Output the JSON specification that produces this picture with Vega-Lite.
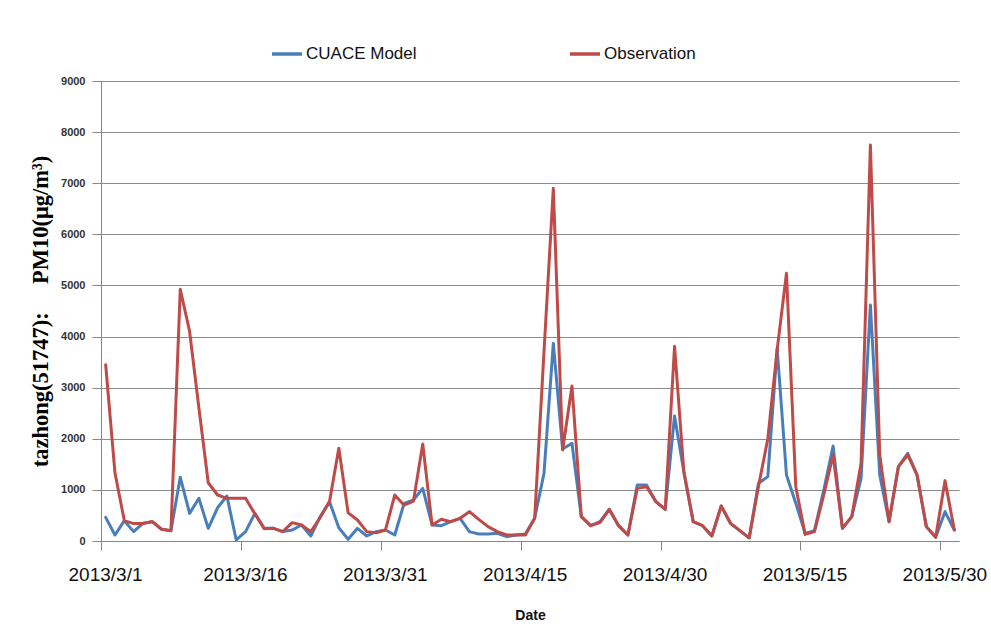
{
  "$schema": "https://vega.github.io/schema/vega-lite/v6.json",
  "width": 858,
  "height": 460,
  "autosize": {"type": "none"},
  "padding": {"left": 101, "top": 81, "right": 32, "bottom": 86},
  "background": "white",
  "config": {
    "view": {"stroke": null},
    "axis": {"domainColor": "#868686", "tickColor": "#868686", "gridColor": "#8c8c8c"}
  },
  "data": {
    "values": [
      {"date": "2013-03-01", "CUACE Model": 463, "Observation": 3450},
      {"date": "2013-03-02", "CUACE Model": 117, "Observation": 1330},
      {"date": "2013-03-03", "CUACE Model": 398, "Observation": 400},
      {"date": "2013-03-04", "CUACE Model": 183, "Observation": 340},
      {"date": "2013-03-05", "CUACE Model": 346, "Observation": 340},
      {"date": "2013-03-06", "CUACE Model": 378, "Observation": 380},
      {"date": "2013-03-07", "CUACE Model": 229, "Observation": 230},
      {"date": "2013-03-08", "CUACE Model": 203, "Observation": 200},
      {"date": "2013-03-09", "CUACE Model": 1246, "Observation": 4925},
      {"date": "2013-03-10", "CUACE Model": 541, "Observation": 4100},
      {"date": "2013-03-11", "CUACE Model": 835, "Observation": 2600},
      {"date": "2013-03-12", "CUACE Model": 248, "Observation": 1140},
      {"date": "2013-03-13", "CUACE Model": 650, "Observation": 900},
      {"date": "2013-03-14", "CUACE Model": 880, "Observation": 835},
      {"date": "2013-03-15", "CUACE Model": 20, "Observation": 835},
      {"date": "2013-03-16", "CUACE Model": 183, "Observation": 835},
      {"date": "2013-03-17", "CUACE Model": 541, "Observation": 530},
      {"date": "2013-03-18", "CUACE Model": 248, "Observation": 240},
      {"date": "2013-03-19", "CUACE Model": 248, "Observation": 248},
      {"date": "2013-03-20", "CUACE Model": 183, "Observation": 183},
      {"date": "2013-03-21", "CUACE Model": 215, "Observation": 359},
      {"date": "2013-03-22", "CUACE Model": 313, "Observation": 313},
      {"date": "2013-03-23", "CUACE Model": 98, "Observation": 183},
      {"date": "2013-03-24", "CUACE Model": 476, "Observation": 460},
      {"date": "2013-03-25", "CUACE Model": 770, "Observation": 770},
      {"date": "2013-03-26", "CUACE Model": 260, "Observation": 1813},
      {"date": "2013-03-27", "CUACE Model": 33, "Observation": 550},
      {"date": "2013-03-28", "CUACE Model": 248, "Observation": 411},
      {"date": "2013-03-29", "CUACE Model": 98, "Observation": 183},
      {"date": "2013-03-30", "CUACE Model": 183, "Observation": 160},
      {"date": "2013-03-31", "CUACE Model": 215, "Observation": 215},
      {"date": "2013-04-01", "CUACE Model": 117, "Observation": 900},
      {"date": "2013-04-02", "CUACE Model": 737, "Observation": 700},
      {"date": "2013-04-03", "CUACE Model": 802, "Observation": 780},
      {"date": "2013-04-04", "CUACE Model": 1030, "Observation": 1898},
      {"date": "2013-04-05", "CUACE Model": 313, "Observation": 313},
      {"date": "2013-04-06", "CUACE Model": 300, "Observation": 424},
      {"date": "2013-04-07", "CUACE Model": 378, "Observation": 378},
      {"date": "2013-04-08", "CUACE Model": 444, "Observation": 444},
      {"date": "2013-04-09", "CUACE Model": 183, "Observation": 574},
      {"date": "2013-04-10", "CUACE Model": 137, "Observation": 424},
      {"date": "2013-04-11", "CUACE Model": 137, "Observation": 281},
      {"date": "2013-04-12", "CUACE Model": 150, "Observation": 183},
      {"date": "2013-04-13", "CUACE Model": 85, "Observation": 117},
      {"date": "2013-04-14", "CUACE Model": 117, "Observation": 117},
      {"date": "2013-04-15", "CUACE Model": 137, "Observation": 117},
      {"date": "2013-04-16", "CUACE Model": 444, "Observation": 444},
      {"date": "2013-04-17", "CUACE Model": 1324, "Observation": 3700},
      {"date": "2013-04-18", "CUACE Model": 3868, "Observation": 6900},
      {"date": "2013-04-19", "CUACE Model": 1800, "Observation": 1781},
      {"date": "2013-04-20", "CUACE Model": 1911, "Observation": 3033},
      {"date": "2013-04-21", "CUACE Model": 476, "Observation": 476},
      {"date": "2013-04-22", "CUACE Model": 300, "Observation": 300},
      {"date": "2013-04-23", "CUACE Model": 378, "Observation": 359},
      {"date": "2013-04-24", "CUACE Model": 620, "Observation": 620},
      {"date": "2013-04-25", "CUACE Model": 300, "Observation": 300},
      {"date": "2013-04-26", "CUACE Model": 117, "Observation": 117},
      {"date": "2013-04-27", "CUACE Model": 1096, "Observation": 1030},
      {"date": "2013-04-28", "CUACE Model": 1096, "Observation": 1063},
      {"date": "2013-04-29", "CUACE Model": 770, "Observation": 770},
      {"date": "2013-04-30", "CUACE Model": 620, "Observation": 620},
      {"date": "2013-05-01", "CUACE Model": 2446, "Observation": 3810},
      {"date": "2013-05-02", "CUACE Model": 1350, "Observation": 1350},
      {"date": "2013-05-03", "CUACE Model": 378, "Observation": 378},
      {"date": "2013-05-04", "CUACE Model": 300, "Observation": 300},
      {"date": "2013-05-05", "CUACE Model": 98, "Observation": 98},
      {"date": "2013-05-06", "CUACE Model": 685, "Observation": 685},
      {"date": "2013-05-07", "CUACE Model": 346, "Observation": 346},
      {"date": "2013-05-08", "CUACE Model": 203, "Observation": 203},
      {"date": "2013-05-09", "CUACE Model": 60, "Observation": 60},
      {"date": "2013-05-10", "CUACE Model": 1129, "Observation": 1070},
      {"date": "2013-05-11", "CUACE Model": 1259, "Observation": 2000},
      {"date": "2013-05-12", "CUACE Model": 3771, "Observation": 3740},
      {"date": "2013-05-13", "CUACE Model": 1292, "Observation": 5238},
      {"date": "2013-05-14", "CUACE Model": 740, "Observation": 1063},
      {"date": "2013-05-15", "CUACE Model": 150, "Observation": 130},
      {"date": "2013-05-16", "CUACE Model": 203, "Observation": 183},
      {"date": "2013-05-17", "CUACE Model": 998, "Observation": 900},
      {"date": "2013-05-18", "CUACE Model": 1859, "Observation": 1683},
      {"date": "2013-05-19", "CUACE Model": 248, "Observation": 248},
      {"date": "2013-05-20", "CUACE Model": 476, "Observation": 476},
      {"date": "2013-05-21", "CUACE Model": 1227, "Observation": 1520},
      {"date": "2013-05-22", "CUACE Model": 4618, "Observation": 7750},
      {"date": "2013-05-23", "CUACE Model": 1292, "Observation": 1683},
      {"date": "2013-05-24", "CUACE Model": 378, "Observation": 378},
      {"date": "2013-05-25", "CUACE Model": 1455, "Observation": 1455},
      {"date": "2013-05-26", "CUACE Model": 1716, "Observation": 1683},
      {"date": "2013-05-27", "CUACE Model": 1292, "Observation": 1292},
      {"date": "2013-05-28", "CUACE Model": 281, "Observation": 281},
      {"date": "2013-05-29", "CUACE Model": 72, "Observation": 72},
      {"date": "2013-05-30", "CUACE Model": 574, "Observation": 1181},
      {"date": "2013-05-31", "CUACE Model": 215, "Observation": 215}
    ]
  },
  "transform": [
    {"fold": ["CUACE Model", "Observation"], "as": ["series", "pm10"]}
  ],
  "mark": {"type": "line", "strokeWidth": 3, "strokeJoin": "round", "strokeCap": "round"},
  "encoding": {
    "x": {
      "field": "date",
      "type": "temporal",
      "timeUnit": "utcyearmonthdate",
      "bandPosition": 0.5,
      "scale": {
        "type": "utc",
        "domain": [
          {"year": 2013, "month": 3, "date": 1, "utc": true},
          {"year": 2013, "month": 6, "date": 1, "utc": true}
        ]
      },
      "axis": {
        "values": [
          {"year": 2013, "month": 3, "date": 1, "utc": true},
          {"year": 2013, "month": 3, "date": 16, "utc": true},
          {"year": 2013, "month": 3, "date": 31, "utc": true},
          {"year": 2013, "month": 4, "date": 15, "utc": true},
          {"year": 2013, "month": 4, "date": 30, "utc": true},
          {"year": 2013, "month": 5, "date": 15, "utc": true},
          {"year": 2013, "month": 5, "date": 30, "utc": true}
        ],
        "labelExpr": "utcFormat(datum.value, '%Y/%-m/%-d')",
        "grid": false,
        "tickSize": 9,
        "labelPadding": 15,
        "labelOffset": 4,
        "labelBaseline": "top",
        "labelFont": "Liberation Sans",
        "labelFontSize": 19,
        "labelColor": "#111111",
        "labelFlush": false,
        "labelOverlap": false,
        "title": "Date",
        "titleFont": "Liberation Sans",
        "titleFontSize": 14,
        "titleFontWeight": "bold",
        "titleColor": "#111111",
        "titleBaseline": "alphabetic",
        "titleY": 78
      }
    },
    "y": {
      "field": "pm10",
      "type": "quantitative",
      "scale": {"domain": [0, 9000], "nice": false},
      "axis": {
        "values": [0, 1000, 2000, 3000, 4000, 5000, 6000, 7000, 8000, 9000],
        "format": "d",
        "grid": true,
        "tickSize": 9,
        "labelPadding": 7,
        "labelFont": "Liberation Sans",
        "labelFontSize": 11,
        "labelFontWeight": "bold",
        "labelColor": "#333333",
        "title": "tazhong(51747):\u00a0\u00a0\u00a0\u00a0\u00a0PM10(μg/m³)",
        "titleFont": "Liberation Serif",
        "titleFontSize": 22.5,
        "titleFontWeight": "bold",
        "titleColor": "#000000",
        "titleAngle": 270,
        "titleAlign": "center",
        "titleBaseline": "alphabetic",
        "titleX": -54,
        "titleY": 230
      }
    },
    "color": {
      "field": "series",
      "type": "nominal",
      "scale": {"domain": ["CUACE Model", "Observation"], "range": ["#4a7ebb", "#be4b48"]},
      "legend": {
        "title": null,
        "orient": "none",
        "legendX": 169,
        "legendY": -44,
        "direction": "horizontal",
        "columns": 2,
        "columnPadding": 146,
        "padding": 0,
        "symbolType": "stroke",
        "symbolSize": 900,
        "symbolStrokeWidth": 3.5,
        "labelOffset": 2,
        "labelFont": "Liberation Sans",
        "labelFontSize": 17,
        "labelColor": "#111111",
        "labelLimit": 300
      }
    }
  }
}
